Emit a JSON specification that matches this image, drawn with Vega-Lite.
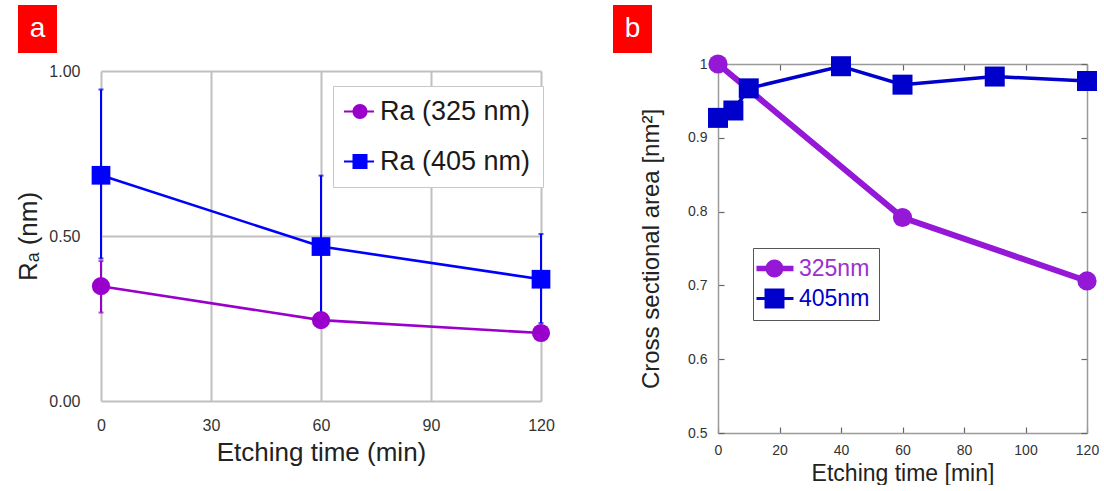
{
  "$schema": "https://vega.github.io/schema/vega-lite/v6.json",
  "background": "white",
  "padding": {"left": 15, "top": 5, "right": 0, "bottom": 0},
  "config": {"font": "Liberation Sans", "view": {"stroke": null}},
  "datasets": {
    "lineA": [
      {"series": "Ra (325 nm)", "time": 0, "ra": 0.348},
      {"series": "Ra (325 nm)", "time": 60, "ra": 0.245},
      {"series": "Ra (325 nm)", "time": 120, "ra": 0.206},
      {"series": "Ra (405 nm)", "time": 0, "ra": 0.684},
      {"series": "Ra (405 nm)", "time": 60, "ra": 0.468},
      {"series": "Ra (405 nm)", "time": 120, "ra": 0.369}
    ],
    "errA": [
      {"series": "Ra (405 nm)", "time": 0, "lo": 0.432, "hi": 0.944},
      {"series": "Ra (405 nm)", "time": 60, "lo": 0.255, "hi": 0.683},
      {"series": "Ra (405 nm)", "time": 120, "lo": 0.236, "hi": 0.506},
      {"series": "Ra (325 nm)", "time": 0, "lo": 0.268, "hi": 0.424}
    ],
    "lineB": [
      {"series": "325nm", "time": 0, "area": 1.0},
      {"series": "325nm", "time": 60, "area": 0.792},
      {"series": "325nm", "time": 120, "area": 0.706},
      {"series": "405nm", "time": 0, "area": 0.927},
      {"series": "405nm", "time": 5, "area": 0.937},
      {"series": "405nm", "time": 10, "area": 0.967},
      {"series": "405nm", "time": 40, "area": 0.997},
      {"series": "405nm", "time": 60, "area": 0.972},
      {"series": "405nm", "time": 90, "area": 0.983},
      {"series": "405nm", "time": 120, "area": 0.977}
    ],
    "labA": [{"label": "a"}],
    "labB": [{"label": "b"}],
    "spacer": [{"k": 1}]
  },
  "spacing": 58,
  "resolve": {"scale": {"color": "independent"}, "legend": {"color": "independent"}},
  "hconcat": [
    {
      "spacing": -42,
      "resolve": {"scale": {"color": "independent"}, "legend": {"color": "independent"}},
      "hconcat": [
        {
          "width": 39, "height": 48,
          "view": {"fill": "#ff0000", "stroke": null},
          "data": {"name": "labA"},
          "mark": {"type": "text", "fontSize": 28, "color": "white", "font": "Liberation Sans"},
          "encoding": {"text": {"field": "label", "type": "nominal"}}
        },
        {
          "spacing": 0,
          "resolve": {"scale": {"color": "independent"}, "legend": {"color": "independent"}},
          "vconcat": [
            {
              "width": 1, "height": 58,
              "data": {"name": "spacer"},
              "mark": {"type": "point", "opacity": 0},
              "encoding": {}
            },
            {
              "width": 440, "height": 330,
              "layer": [
                {
                  "data": {"name": "errA"},
                  "transform": [{"filter": "datum.series === 'Ra (405 nm)'"}],
                  "mark": {"type": "rule", "strokeWidth": 2, "color": "#0000ff"},
                  "encoding": {
                    "x": {"field": "time", "type": "quantitative", "scale": {"domain": [0, 120], "nice": false},
                      "axis": {"values": [0, 30, 60, 90, 120], "grid": true, "gridColor": "#c0c0c0", "gridWidth": 2, "ticks": false, "domain": false, "labelFlush": false,
                        "labelFontSize": 16, "labelColor": "#333333", "labelPadding": 16,
                        "title": "Etching time (min)", "titleFontSize": 26, "titleFontWeight": "normal", "titleColor": "#222222", "titlePadding": 6}},
                    "y": {"field": "lo", "type": "quantitative", "scale": {"domain": [0, 1], "nice": false},
                      "axis": {"values": [0, 0.5, 1], "format": ".2f", "grid": true, "gridColor": "#c0c0c0", "gridWidth": 2, "ticks": false, "domain": false, "labelFlush": false,
                        "labelFontSize": 16, "labelColor": "#333333", "labelPadding": 21,
                        "title": "Rₐ (nm)", "titleFontSize": 26, "titleFontWeight": "normal", "titleColor": "#222222", "titlePadding": 7}},
                    "y2": {"field": "hi"}
                  }
                },
                {
                  "data": {"name": "errA"},
                  "transform": [{"filter": "datum.series === 'Ra (325 nm)'"}],
                  "mark": {"type": "rule", "strokeWidth": 2, "color": "#9900cc"},
                  "encoding": {
                    "x": {"field": "time", "type": "quantitative"},
                    "y": {"field": "lo", "type": "quantitative"},
                    "y2": {"field": "hi"}
                  }
                },
                {
                  "data": {"name": "errA"},
                  "transform": [{"filter": "datum.series === 'Ra (405 nm)'"}],
                  "mark": {"type": "tick", "orient": "horizontal", "size": 5, "thickness": 2, "color": "#0000ff"},
                  "encoding": {
                    "x": {"field": "time", "type": "quantitative"},
                    "y": {"field": "hi", "type": "quantitative"}
                  }
                },
                {
                  "data": {"name": "errA"},
                  "transform": [{"filter": "datum.series === 'Ra (405 nm)'"}],
                  "mark": {"type": "tick", "orient": "horizontal", "size": 5, "thickness": 2, "color": "#0000ff"},
                  "encoding": {
                    "x": {"field": "time", "type": "quantitative"},
                    "y": {"field": "lo", "type": "quantitative"}
                  }
                },
                {
                  "data": {"name": "errA"},
                  "transform": [{"filter": "datum.series === 'Ra (325 nm)'"}],
                  "mark": {"type": "tick", "orient": "horizontal", "size": 5, "thickness": 2, "color": "#9900cc"},
                  "encoding": {
                    "x": {"field": "time", "type": "quantitative"},
                    "y": {"field": "hi", "type": "quantitative"}
                  }
                },
                {
                  "data": {"name": "errA"},
                  "transform": [{"filter": "datum.series === 'Ra (325 nm)'"}],
                  "mark": {"type": "tick", "orient": "horizontal", "size": 5, "thickness": 2, "color": "#9900cc"},
                  "encoding": {
                    "x": {"field": "time", "type": "quantitative"},
                    "y": {"field": "lo", "type": "quantitative"}
                  }
                },
                {
                  "data": {"name": "lineA"},
                  "transform": [{"filter": "datum.series === 'Ra (405 nm)'"}],
                  "mark": {"type": "line", "strokeWidth": 2.6, "color": "#0000ff"},
                  "encoding": {
                    "x": {"field": "time", "type": "quantitative"},
                    "y": {"field": "ra", "type": "quantitative"}
                  }
                },
                {
                  "data": {"name": "lineA"},
                  "transform": [{"filter": "datum.series === 'Ra (325 nm)'"}],
                  "mark": {"type": "line", "strokeWidth": 2.6, "color": "#9900cc"},
                  "encoding": {
                    "x": {"field": "time", "type": "quantitative"},
                    "y": {"field": "ra", "type": "quantitative"}
                  }
                },
                {
                  "data": {"name": "lineA"},
                  "transform": [{"filter": "datum.series === 'Ra (325 nm)'"}],
                  "mark": {"type": "point", "shape": "circle", "filled": true, "size": 330, "opacity": 1},
                  "encoding": {
                    "x": {"field": "time", "type": "quantitative"},
                    "y": {"field": "ra", "type": "quantitative"},
                    "color": {"field": "series", "type": "nominal", "scale": {"domain": ["Ra (325 nm)", "Ra (405 nm)"], "range": ["#9900cc", "#0000ff"]},
                      "legend": {"title": null, "orient": "none", "legendX": 232, "legendY": 15, "padding": 12,
                        "fillColor": "white", "strokeColor": "#c8c8c8",
                        "labelFontSize": 27, "labelColor": "#1a1a1a", "labelOffset": 8, "labelLimit": 400, "rowPadding": 22,
                        "symbolSize": 225, "symbolStrokeWidth": 0,
                        "symbolType": {"expr": "datum.value === 'Ra (325 nm)' ? 'M1.2,0A1,1,0,1,1,-0.8,0A1,1,0,1,1,1.2,0ZM-1.93,-0.14H2.07V0.14H-1.93Z' : 'M-0.8,-1H1.2V1H-0.8ZM-1.93,-0.14H2.07V0.14H-1.93Z'"}}}
                  }
                },
                {
                  "data": {"name": "lineA"},
                  "transform": [{"filter": "datum.series === 'Ra (405 nm)'"}],
                  "mark": {"type": "point", "shape": "square", "filled": true, "size": 350, "opacity": 1},
                  "encoding": {
                    "x": {"field": "time", "type": "quantitative"},
                    "y": {"field": "ra", "type": "quantitative"},
                    "color": {"field": "series", "type": "nominal",
                      "legend": {"title": null, "orient": "none", "legendX": 232, "legendY": 15, "padding": 12,
                        "fillColor": "white", "strokeColor": "#c8c8c8",
                        "labelFontSize": 27, "labelColor": "#1a1a1a", "labelOffset": 8, "labelLimit": 400, "rowPadding": 22,
                        "symbolSize": 225, "symbolStrokeWidth": 0,
                        "symbolType": {"expr": "datum.value === 'Ra (325 nm)' ? 'M1.2,0A1,1,0,1,1,-0.8,0A1,1,0,1,1,1.2,0ZM-1.93,-0.14H2.07V0.14H-1.93Z' : 'M-0.8,-1H1.2V1H-0.8ZM-1.93,-0.14H2.07V0.14H-1.93Z'"}}}
                  }
                }
              ]
            }
          ]
        }
      ]
    },
    {
      "spacing": -13,
      "resolve": {"scale": {"color": "independent"}, "legend": {"color": "independent"}},
      "hconcat": [
        {
          "width": 39, "height": 48,
          "view": {"fill": "#ff0000", "stroke": null},
          "data": {"name": "labB"},
          "mark": {"type": "text", "fontSize": 28, "color": "white", "font": "Liberation Sans"},
          "encoding": {"text": {"field": "label", "type": "nominal"}}
        },
        {
          "spacing": 0,
          "resolve": {"scale": {"color": "independent"}, "legend": {"color": "independent"}},
          "vconcat": [
            {
              "width": 1, "height": 47,
              "data": {"name": "spacer"},
              "mark": {"type": "point", "opacity": 0},
              "encoding": {}
            },
            {
              "width": 369, "height": 369,
              "layer": [
                {
                  "data": {"name": "lineB"},
                  "transform": [{"filter": "datum.series === '325nm'"}],
                  "mark": {"type": "line", "strokeWidth": 6, "color": "#9418d6"},
                  "encoding": {
                    "x": {"field": "time", "type": "quantitative", "scale": {"domain": [0, 120], "nice": false},
                      "axis": {"orient": "bottom", "values": [0, 20, 40, 60, 80, 100, 120], "grid": false, "labelFlush": false,
                        "domain": true, "domainColor": "#9a9a9a", "domainWidth": 1.5,
                        "ticks": true, "tickSize": -6, "tickColor": "#666666", "tickWidth": 1.2,
                        "labelFontSize": 14, "labelColor": "#333333", "labelPadding": 16,
                        "title": "Etching time [min]", "titleFontSize": 23, "titleFontWeight": "normal", "titleColor": "#222222", "titlePadding": 5}},
                    "y": {"field": "area", "type": "quantitative", "scale": {"domain": [0.5, 1], "nice": false, "zero": false},
                      "axis": {"orient": "left", "values": [0.5, 0.6, 0.7, 0.8, 0.9, 1], "format": "~g", "grid": false, "labelFlush": false,
                        "domain": true, "domainColor": "#9a9a9a", "domainWidth": 1.5,
                        "ticks": true, "tickSize": -6, "tickColor": "#666666", "tickWidth": 1.2,
                        "labelFontSize": 14, "labelColor": "#333333", "labelPadding": 17,
                        "title": "Cross sectional area [nm²]", "titleFontSize": 24, "titleFontWeight": "normal", "titleColor": "#222222", "titlePadding": 24}}
                  }
                },
                {
                  "data": {"name": "lineB"},
                  "transform": [{"filter": "datum.series === '405nm'"}],
                  "mark": {"type": "line", "strokeWidth": 3.5, "color": "#0000cc"},
                  "encoding": {
                    "x": {"field": "time", "type": "quantitative",
                      "axis": {"orient": "top", "values": [0, 20, 40, 60, 80, 100, 120], "grid": false, "labels": false, "title": null,
                        "domain": true, "domainColor": "#9a9a9a", "domainWidth": 1.5,
                        "ticks": true, "tickSize": -6, "tickColor": "#666666", "tickWidth": 1.2}},
                    "y": {"field": "area", "type": "quantitative",
                      "axis": {"orient": "right", "values": [0.5, 0.6, 0.7, 0.8, 0.9, 1], "grid": false, "labels": false, "title": null,
                        "domain": true, "domainColor": "#9a9a9a", "domainWidth": 1.5,
                        "ticks": true, "tickSize": -6, "tickColor": "#666666", "tickWidth": 1.2}}
                  }
                },
                {
                  "data": {"name": "lineB"},
                  "transform": [{"filter": "datum.series === '325nm'"}],
                  "mark": {"type": "point", "shape": "circle", "filled": true, "size": 370, "opacity": 1},
                  "encoding": {
                    "x": {"field": "time", "type": "quantitative", "axis": null},
                    "y": {"field": "area", "type": "quantitative", "axis": null},
                    "color": {"field": "series", "type": "nominal", "scale": {"domain": ["325nm", "405nm"], "range": ["#9418d6", "#0000cc"]},
                      "legend": {"title": null, "orient": "none", "legendX": 35, "legendY": 184, "padding": 9,
                        "fillColor": "white", "strokeColor": "#555555",
                        "labelFontSize": 23, "labelOffset": 14, "labelLimit": 300, "rowPadding": 6,
                        "symbolSize": 324, "symbolStrokeWidth": 0,
                        "labelColor": {"expr": "datum.value === '325nm' ? '#9b30d0' : '#0000cc'"},
                        "symbolType": {"expr": "datum.value === '325nm' ? 'M1.11,0A1,1,0,1,1,-0.89,0A1,1,0,1,1,1.11,0ZM-1.89,-0.3H2.22V0.3H-1.89Z' : 'M-1,-1.1H1.22V1.1H-1ZM-1.89,-0.18H2.22V0.18H-1.89Z'"}}}
                  }
                },
                {
                  "data": {"name": "lineB"},
                  "transform": [{"filter": "datum.series === '405nm'"}],
                  "mark": {"type": "point", "shape": "square", "filled": true, "size": 400, "opacity": 1},
                  "encoding": {
                    "x": {"field": "time", "type": "quantitative", "axis": null},
                    "y": {"field": "area", "type": "quantitative", "axis": null},
                    "color": {"field": "series", "type": "nominal",
                      "legend": {"title": null, "orient": "none", "legendX": 35, "legendY": 184, "padding": 9,
                        "fillColor": "white", "strokeColor": "#555555",
                        "labelFontSize": 23, "labelOffset": 14, "labelLimit": 300, "rowPadding": 6,
                        "symbolSize": 324, "symbolStrokeWidth": 0,
                        "labelColor": {"expr": "datum.value === '325nm' ? '#9b30d0' : '#0000cc'"},
                        "symbolType": {"expr": "datum.value === '325nm' ? 'M1.11,0A1,1,0,1,1,-0.89,0A1,1,0,1,1,1.11,0ZM-1.89,-0.3H2.22V0.3H-1.89Z' : 'M-1,-1.1H1.22V1.1H-1ZM-1.89,-0.18H2.22V0.18H-1.89Z'"}}}
                  }
                }
              ]
            }
          ]
        }
      ]
    }
  ]
}
